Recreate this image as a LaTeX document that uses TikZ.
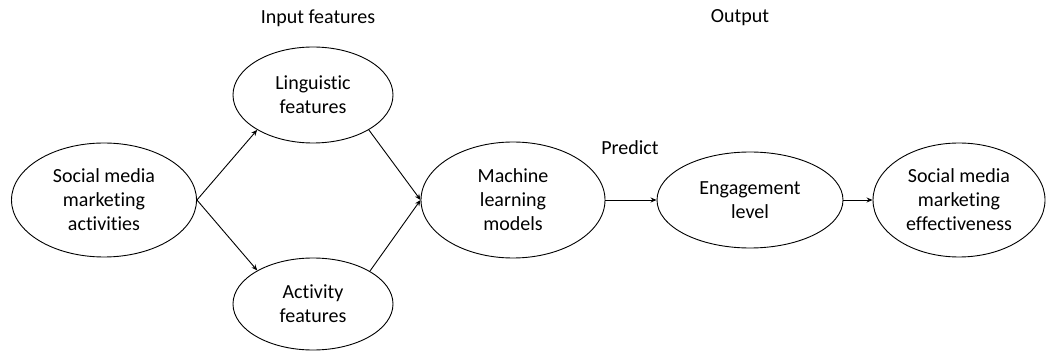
\documentclass[tikz,border=0pt]{standalone}
\usepackage{fontspec}
\setmainfont[Ligatures=NoCommon]{Carlito}
\usetikzlibrary{shapes.geometric,arrows.meta}
\begin{document}
\begin{tikzpicture}[x=1pt,y=-1pt,
  oval/.style={ellipse,draw,line width=0.9pt,inner sep=0pt,align=center,
    font=\fontsize{20}{24}\selectfont},
  link/.style={line width=0.9pt,-{Stealth[length=6pt,width=5pt]}},
  caption/.style={font=\fontsize{20}{24}\selectfont}]
\useasboundingbox (0,0) rectangle (1048,352);

% stages
\node[oval,minimum width=185pt,minimum height=114pt] (sma) at (104,200)
  {Social media\\marketing\\activities};
\node[oval,minimum width=160pt,minimum height=96pt] (ling) at (313,95)
  {Linguistic\\features};
\node[oval,minimum width=160pt,minimum height=92pt] (act) at (313,304)
  {Activity\\features};
\node[oval,minimum width=184pt,minimum height=116pt] (ml) at (513,200)
  {Machine\\learning\\models};
\node[oval,minimum width=186pt,minimum height=96pt] (eng) at (750,200)
  {Engagement\\level};
\node[oval,minimum width=172pt,minimum height=114pt] (eff) at (959,200)
  {Social media\\marketing\\effectiveness};

% headings
\node[caption] (inlab) at (318,18) {Input features};
\node[caption] (outlab) at (740,18) {Output};
\node[caption] (pred) at (630,148) {Predict};

% connectors
\draw[link] (sma.east) -- (ling.212);
\draw[link] (sma.east) -- (act.149);
\draw[link] (ling.328) -- (ml.west);
\draw[link] (act.30) -- (ml.west);
\draw[link] (ml.east) -- (eng.west);
\draw[link] (eng.east) -- (eff.west);
\end{tikzpicture}
\end{document}
